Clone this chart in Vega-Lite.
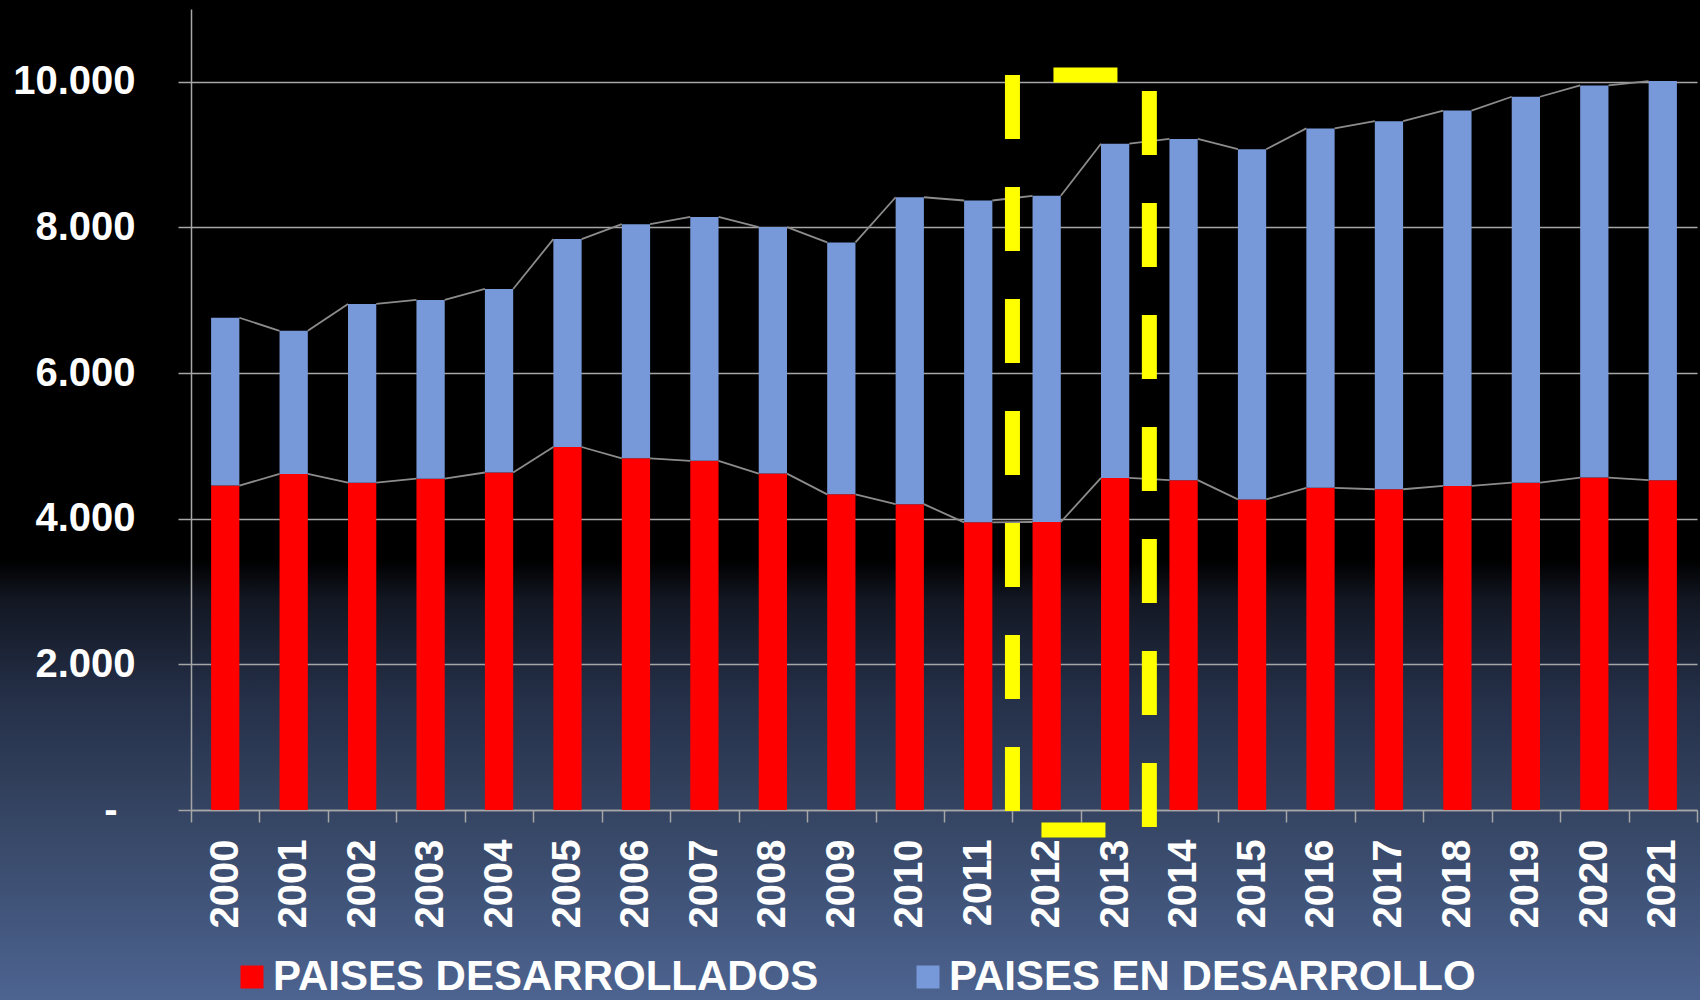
{
  "$schema": "https://vega.github.io/schema/vega-lite/v6.json",
  "width": 1700,
  "height": 1000,
  "autosize": "none",
  "padding": 0,
  "background": "#000000",
  "view": {
    "stroke": null,
    "fill": {
      "gradient": "linear", "x1": 0, "y1": 0, "x2": 0, "y2": 1,
      "stops": [
        {"offset": 0, "color": "#000000"},
        {"offset": 0.56, "color": "#000000"},
        {"offset": 0.6, "color": "#121722"},
        {"offset": 0.7, "color": "#253049"},
        {"offset": 0.8, "color": "#33425f"},
        {"offset": 0.9, "color": "#405378"},
        {"offset": 1, "color": "#4d6491"}
      ]
    }
  },
  "data": {
    "values": [
      {"year": "2000", "desarrollados": 4455, "total": 6760},
      {"year": "2001", "desarrollados": 4615, "total": 6580},
      {"year": "2002", "desarrollados": 4495, "total": 6950},
      {"year": "2003", "desarrollados": 4550, "total": 7005},
      {"year": "2004", "desarrollados": 4635, "total": 7155},
      {"year": "2005", "desarrollados": 4985, "total": 7840},
      {"year": "2006", "desarrollados": 4830, "total": 8045},
      {"year": "2007", "desarrollados": 4795, "total": 8145},
      {"year": "2008", "desarrollados": 4620, "total": 8005},
      {"year": "2009", "desarrollados": 4335, "total": 7795},
      {"year": "2010", "desarrollados": 4200, "total": 8415},
      {"year": "2011", "desarrollados": 3950, "total": 8370},
      {"year": "2012", "desarrollados": 3955, "total": 8435},
      {"year": "2013", "desarrollados": 4560, "total": 9150},
      {"year": "2014", "desarrollados": 4530, "total": 9215},
      {"year": "2015", "desarrollados": 4265, "total": 9075},
      {"year": "2016", "desarrollados": 4425, "total": 9360},
      {"year": "2017", "desarrollados": 4405, "total": 9460},
      {"year": "2018", "desarrollados": 4450, "total": 9605},
      {"year": "2019", "desarrollados": 4495, "total": 9795},
      {"year": "2020", "desarrollados": 4565, "total": 9950},
      {"year": "2021", "desarrollados": 4530, "total": 10010}
    ]
  },
  "layer": [
    {
      "mark": {"type": "bar", "width": {"band": 0.413}},
      "encoding": {
        "x": {
          "field": "year", "type": "nominal", "title": null,
          "scale": {"range": [191, 1697], "paddingInner": 0, "paddingOuter": 0},
          "axis": {
            "offset": -190, "tickBand": "extent", "tickSize": 12, "labelPadding": 17,
            "labelAngle": -90, "labelFont": "Liberation Sans", "labelFontWeight": "bold",
            "labelFontSize": 40, "labelColor": "#ffffff", "domainColor": "#a6a6a6",
            "tickColor": "#a6a6a6", "domainWidth": 1.5, "tickWidth": 1.5, "grid": false
          }
        },
        "y": {
          "field": "desarrollados", "type": "quantitative", "title": null,
          "scale": {"domain": [0, 11000], "range": [810, 9], "nice": false},
          "axis": {
            "offset": -191, "values": [0, 2000, 4000, 6000, 8000, 10000],
            "labelExpr": "datum.value == 0 ? '-' : replace(format(datum.value, ','), ',', '.')",
            "tickSize": 13,
            "labelPadding": {"condition": {"test": "datum.value == 0", "value": 61}, "value": 43},
            "labelFont": "Liberation Sans",
            "labelFontWeight": "bold", "labelFontSize": 40, "labelColor": "#ffffff",
            "domainColor": "#a6a6a6", "tickColor": "#a6a6a6", "gridColor": "#a6a6a6",
            "domainWidth": 1.5, "tickWidth": 1.5, "gridWidth": 1.5, "grid": true
          }
        },
        "color": {
          "datum": "PAISES DESARROLLADOS",
          "scale": {"domain": ["PAISES DESARROLLADOS", "PAISES EN DESARROLLO"], "range": ["#ff0000", "#7799d9"]},
          "legend": {
            "orient": "none", "legendX": 231, "legendY": 956, "direction": "horizontal",
            "title": null, "padding": 0, "symbolType": "square", "symbolSize": 529,
            "symbolStrokeWidth": 0, "labelFont": "Liberation Sans", "labelFontWeight": "bold",
            "labelFontSize": 42, "labelColor": "#ffffff", "labelOffset": 0,
            "labelLimit": 1000, "columnPadding": 88
          }
        }
      }
    },
    {
      "mark": {"type": "bar", "width": {"band": 0.413}},
      "encoding": {
        "x": {"field": "year", "type": "nominal", "title": null},
        "y": {"field": "total", "type": "quantitative", "title": null},
        "y2": {"field": "desarrollados"},
        "color": {"datum": "PAISES EN DESARROLLO"}
      }
    },
    {
      "transform": [
        {"window": [
          {"op": "lead", "field": "year", "as": "nextYear"},
          {"op": "lead", "field": "total", "as": "nextTotal"},
          {"op": "lead", "field": "desarrollados", "as": "nextDes"}
        ], "sort": [{"field": "year"}]},
        {"filter": "datum.nextYear != null"}
      ],
      "layer": [
        {
          "mark": {"type": "rule", "color": "#8c8c8c", "strokeWidth": 1.8},
          "encoding": {
            "x": {"field": "year", "type": "nominal", "bandPosition": 0.7065, "title": null},
            "x2": {"field": "nextYear", "bandPosition": 0.2935},
            "y": {"field": "total", "type": "quantitative", "title": null},
            "y2": {"field": "nextTotal"}
          }
        },
        {
          "mark": {"type": "rule", "color": "#8c8c8c", "strokeWidth": 1.8},
          "encoding": {
            "x": {"field": "year", "type": "nominal", "bandPosition": 0.7065, "title": null},
            "x2": {"field": "nextYear", "bandPosition": 0.2935},
            "y": {"field": "desarrollados", "type": "quantitative", "title": null},
            "y2": {"field": "nextDes"}
          }
        }
      ]
    },
    {
      "data": {"values": [{"box": "2012-2013"}]},
      "layer": [
        {
          "mark": {"type": "rule", "color": "#ffff00", "strokeWidth": 15, "strokeDash": [64, 48], "strokeDashOffset": 0, "strokeCap": "butt"},
          "encoding": {
            "x": {"datum": "2012", "type": "nominal", "bandPosition": 0, "title": null},
            "y": {"datum": 10093, "type": "quantitative", "title": null},
            "y2": {"datum": -275}
          }
        },
        {
          "mark": {"type": "rule", "color": "#ffff00", "strokeWidth": 15, "strokeDash": [64, 48], "strokeDashOffset": 96, "strokeCap": "butt"},
          "encoding": {
            "x": {"datum": "2013", "type": "nominal", "bandPosition": 1, "title": null},
            "y": {"datum": 10093, "type": "quantitative", "title": null},
            "y2": {"datum": -275}
          }
        },
        {
          "mark": {"type": "rule", "color": "#ffff00", "strokeWidth": 15, "strokeDash": [64, 48], "strokeDashOffset": 71, "strokeCap": "butt"},
          "encoding": {
            "x": {"datum": "2012", "type": "nominal", "bandPosition": 0, "title": null},
            "x2": {"datum": "2013", "bandPosition": 1},
            "y": {"datum": 10093, "type": "quantitative", "title": null}
          }
        },
        {
          "mark": {"type": "rule", "color": "#ffff00", "strokeWidth": 15, "strokeDash": [64, 48], "strokeDashOffset": 83, "strokeCap": "butt"},
          "encoding": {
            "x": {"datum": "2012", "type": "nominal", "bandPosition": 0, "title": null},
            "x2": {"datum": "2013", "bandPosition": 1},
            "y": {"datum": -275, "type": "quantitative", "title": null}
          }
        }
      ]
    }
  ]
}
